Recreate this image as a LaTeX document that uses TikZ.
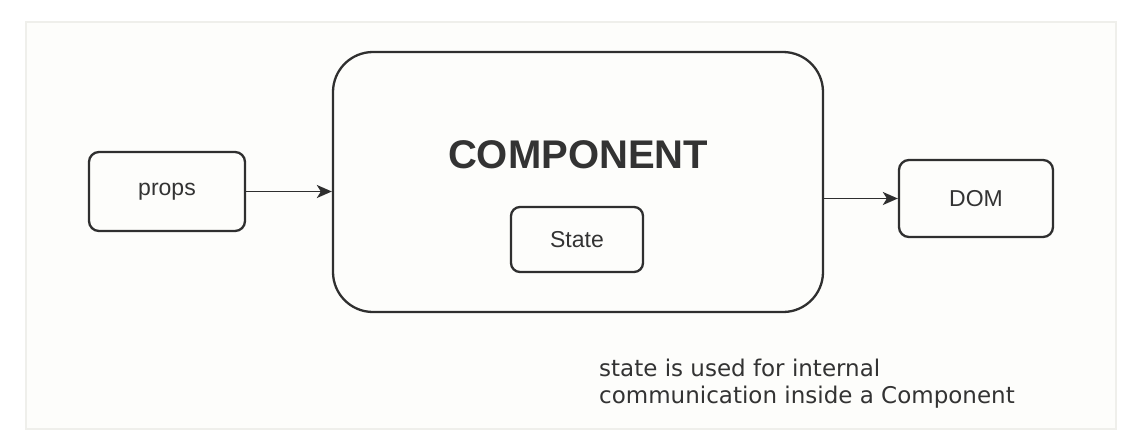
\documentclass[tikz,border=0pt]{standalone}
\usepackage{fontspec}
\setmainfont{Liberation Sans}
\newfontfamily\capfont{DejaVu Sans}
\usetikzlibrary{arrows.meta}
\definecolor{ink}{HTML}{2F2F2F}
\definecolor{txt}{HTML}{333333}
\definecolor{paper}{HTML}{FDFDFB}
\definecolor{framecol}{HTML}{EFEFEB}
\begin{document}
\begin{tikzpicture}[x=1pt,y=-1pt,
  box/.style={draw=ink, line width=2.3pt, rectangle, inner sep=0pt, text=txt,
    font=\fontsize{23}{27}\selectfont},
  arr/.style={draw=ink, line width=1.9pt, -{Stealth[length=15pt,width=13pt,inset=4pt]}},
  title/.style={text=txt, font=\fontsize{40}{46}\selectfont\bfseries, inner sep=0pt},
  note/.style={text=txt, font=\capfont\fontsize{23}{27}\selectfont, align=left, inner sep=0pt}]
\useasboundingbox (0,0) rectangle (1138,440);
\fill[white] (0,0) rectangle (1138,440);
\draw[framecol, fill=paper, line width=1.2pt] (26,22) rectangle (1116,429);

\node[box, rounded corners=10pt, minimum width=156pt, minimum height=79pt] (props) at (167,191.5) {props};
\node[box, rounded corners=40pt, minimum width=490pt, minimum height=260pt] (comp) at (578,182) {};
\node[title] (ctitle) at (578,155) {COMPONENT};
\node[box, rounded corners=9pt, minimum width=132pt, minimum height=65pt] (state) at (577,239.5) {State};
\node[box, rounded corners=10pt, minimum width=154pt, minimum height=77pt] (dom) at (976,198.5) {DOM};

\draw[arr] (props.east) -- (props.east -| comp.west);
\draw[arr] (comp.east |- dom.west) -- (dom.west);

\node[note, anchor=north west] (note) at (599,358.5) {state is used for internal\\communication inside a Component};
\end{tikzpicture}
\end{document}
